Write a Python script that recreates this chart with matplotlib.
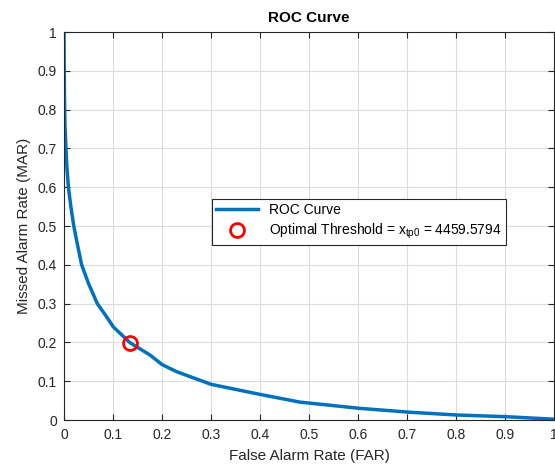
import numpy as np
import matplotlib
matplotlib.use('Agg')
import matplotlib.pyplot as plt

plt.rcParams['font.family'] = ['Liberation Sans', 'DejaVu Sans']
plt.rcParams['mathtext.fontset'] = 'custom'
plt.rcParams['mathtext.rm'] = 'Liberation Sans'

# ROC curve values
far = [0.0, 0.0005, 0.001, 0.002, 0.004, 0.006, 0.009, 0.014, 0.020, 0.027, 0.036, 0.050,
       0.068, 0.087, 0.1006, 0.135, 0.1755, 0.2, 0.23, 0.3, 0.4, 0.482, 0.604,
       0.706, 0.80, 0.903, 1.0]
mar = [1.0, 0.9, 0.83, 0.76, 0.7, 0.65, 0.6, 0.55, 0.5, 0.455, 0.4, 0.352,
       0.3, 0.266, 0.240, 0.199, 0.1675, 0.143, 0.1245, 0.092, 0.066, 0.046, 0.030,
       0.020, 0.013, 0.0085, 0.002]
opt_far = 0.135
opt_mar = 0.199
opt_label = r'Optimal Threshold = $\mathregular{x_{tp0}}$ = 4459.5794'
tick_vals = np.arange(0, 1.01, 0.1)
tick_text = ['0', '0.1', '0.2', '0.3', '0.4', '0.5', '0.6', '0.7', '0.8', '0.9', '1']

fig = plt.figure(figsize=(5.55, 4.66), dpi=100)
ax = fig.add_axes([0.1153, 0.0987, 0.8829, 0.8326])

ax.plot(far, mar, color='#0072BD', lw=2.5, label='ROC Curve')
ax.plot(opt_far, opt_mar, 'o', ms=10, mfc='none', mec='red', mew=2, label=opt_label)

ax.set_xlim(0, 1)
ax.set_ylim(0, 1)
ax.set_xticks(tick_vals)
ax.set_yticks(tick_vals)
ax.set_xticklabels(tick_text)
ax.set_yticklabels(tick_text)
ax.tick_params(direction='in', top=True, right=True, labelsize=10, colors='#262626',
               length=4, width=0.8)
ax.tick_params(axis='x', pad=6)
ax.tick_params(axis='y', pad=5)
for s in ax.spines.values():
    s.set_color('#262626')
    s.set_linewidth(0.8)
ax.grid(True, color='#dcdcdc', lw=0.8)
ax.set_axisbelow(True)

ax.set_xlabel('False Alarm Rate (FAR)', fontsize=11, color='#262626', labelpad=5)
ax.set_ylabel('Missed Alarm Rate (MAR)', fontsize=11, color='#262626', labelpad=5)
ax.set_title('ROC Curve', fontsize=11, fontweight='bold', pad=7)

leg = ax.legend(loc='center', bbox_to_anchor=(0.602, 0.51), fontsize=10,
                fancybox=False, framealpha=1, edgecolor='#262626',
                handlelength=3, borderpad=0.3, labelspacing=0.35)
leg.get_frame().set_linewidth(0.8)

fig.savefig('out.png', dpi=100)
